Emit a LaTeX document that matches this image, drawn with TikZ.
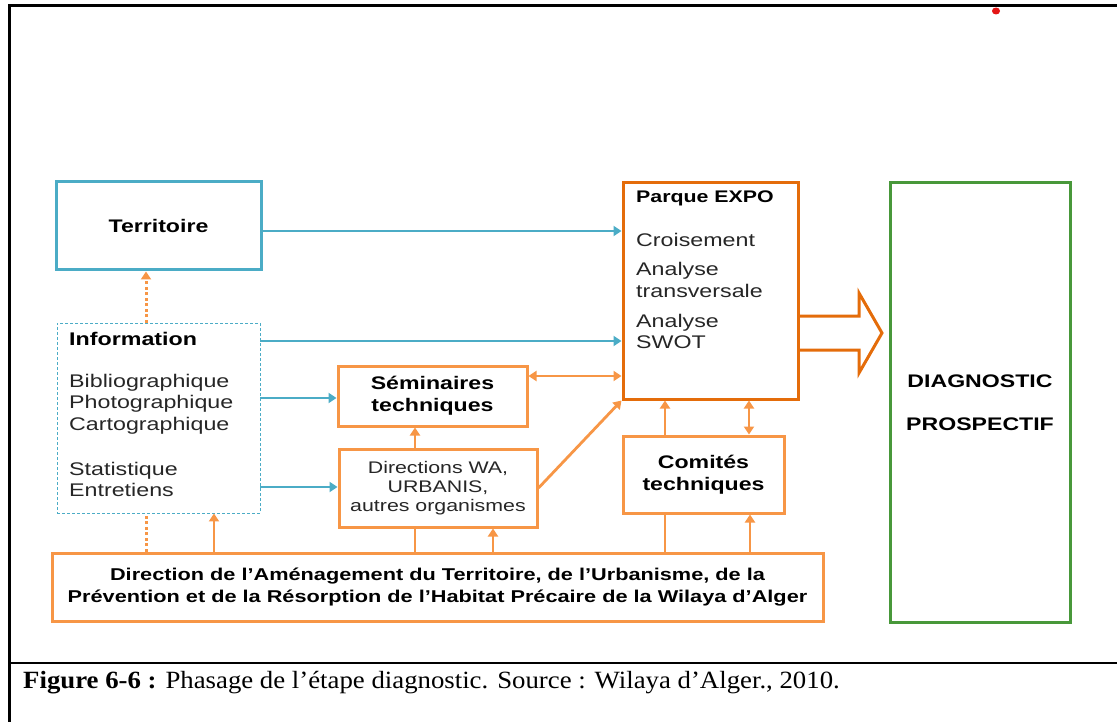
\documentclass[tikz,border=0pt]{standalone}
\usepackage{fontspec}
\setmainfont{Liberation Sans}[FakeStretch=1.27]
\newfontfamily\capfont{Liberation Serif}[FakeStretch=1.08]
\usetikzlibrary{arrows.meta}
\definecolor{aqua}{RGB}{75,172,198}
\definecolor{tangerine}{RGB}{247,150,70}
\definecolor{rust}{RGB}{228,108,10}
\definecolor{leaf}{RGB}{72,152,58}
\definecolor{ink}{RGB}{38,38,38}
\definecolor{reddot}{RGB}{228,22,22}

\begin{document}
\begin{tikzpicture}[x=1pt,y=-1pt,
  box/.style={draw, line width=3pt, inner sep=0pt, align=center, text=black,
              font=\bfseries\fontsize{18.2}{22}\selectfont},
  terrbox/.style={box, draw=aqua},
  infobox/.style={draw=aqua, line width=0.9pt, dash pattern=on 3pt off 2pt, inner sep=0pt},
  orbox/.style={box, draw=tangerine},
  parbox/.style={box, draw=rust},
  diagbox/.style={box, draw=leaf},
  txtline/.style={anchor=base west, inner sep=0pt, text=ink, font=\fontsize{18.3}{22}\selectfont},
  boldline/.style={txtline, text=black, font=\bfseries\fontsize{18.3}{22}\selectfont},
  link/.style={line width=2.8pt},
  tip/.style={-{Triangle[length=8pt,width=10pt]}},
  bluearrow/.style={link, draw=aqua, tip},
  orarrow/.style={link, draw=tangerine, tip},
  ortwoway/.style={link, draw=tangerine, {Triangle[length=8pt,width=10pt]}-{Triangle[length=8pt,width=10pt]}},
  orplain/.style={link, draw=tangerine},
  ordotted/.style={line width=3pt, draw=tangerine, dash pattern=on 3pt off 2.5pt},
]
\useasboundingbox (0,0) rectangle (1117,722);

% page frame and caption rule
\draw[line width=3pt] (1117,6) -- (9,6) -- (9,722);
\draw[line width=2.5pt] (9,663) -- (1117,663);
\fill[reddot] (996,11) ellipse [x radius=4pt, y radius=3.5pt];

% boxes
\node[terrbox, minimum width=205pt, minimum height=88pt] (terr) at (158.5,226) {Territoire};
\node[infobox, minimum width=203pt, minimum height=190pt] (info) at (158.5,418) {};
\node[orbox, minimum width=189pt, minimum height=60pt] (sem) at (432.5,396) {Séminaires\\techniques};
\node[orbox, minimum width=198pt, minimum height=78pt, font=\fontsize{16.8}{19}\selectfont, text=ink]
  (dir) at (438,488) {Directions WA,\\URBANIS,\\autres organismes};
\node[parbox, minimum width=175pt, minimum height=216pt] (parque) at (710.5,291) {};
\node[orbox, minimum width=161pt, minimum height=77pt] (com) at (703.5,474.5) {Comités\\techniques};
\node[diagbox, minimum width=180pt, minimum height=439pt] (diag) at (980,402.5)
  {DIAGNOSTIC\\[21pt]PROSPECTIF};
\node[orbox, minimum width=771pt, minimum height=68pt, font=\bfseries\fontsize{17.1}{22}\selectfont]
  (dir-amt) at (437.5,587)
  {Direction de l’Aménagement du Territoire, de l’Urbanisme, de la\\
   Prévention et de la Résorption de l’Habitat Précaire de la Wilaya d’Alger};

% text of the information box
\node[boldline] (info-head) at (69,345) {Information};
\foreach \txt/\yy [count=\k] in {Bibliographique/387, Photographique/408.5,
    Cartographique/430, Statistique/475, Entretiens/496.5}
  \node[txtline] (info-\k) at (69,\yy) {\txt};

% text of the Parque EXPO box
\node[boldline, font=\bfseries\fontsize{16.8}{22}\selectfont] (parque-head) at (636,203) {Parque EXPO};
\foreach \txt/\yy [count=\k] in {Croisement/247, Analyse/276, transversale/298,
    Analyse/327, SWOT/348.5}
  \node[txtline] (parque-\k) at (636,\yy) {\txt};

% hollow arrow towards the diagnostic
\coordinate (big-tip) at (882,333);
\draw[rust, line width=3pt, line join=miter]
  (parque.east |- 0,316) -- (859,316) -- (859,293) -- (big-tip)
  -- (859,373) -- (859,350) -- (parque.east |- 0,350);

% blue flows
\draw[bluearrow] (terr.east |- 0,231) -- (parque.west |- 0,231);
\draw[bluearrow] (info.east |- 0,341) -- (parque.west |- 0,341);
\draw[bluearrow] (info.east |- 0,398) -- (sem.west |- 0,398);
\draw[bluearrow] (info.east |- 0,487) -- (dir.west |- 0,487);

% orange flows
\draw[ortwoway] (sem.east |- 0,376) -- (parque.west |- 0,376);
\draw[orarrow] (dir.north -| 415,0) -- (sem.south -| 415,0);
\draw[orarrow] (dir.east) -- (parque.south west);
\draw[orarrow] (com.north -| 665,0) -- (parque.south -| 665,0);
\draw[ortwoway] (com.north -| 749,0) -- (parque.south -| 749,0);

% links from the Direction de l'Aménagement
\draw[ordotted] (dir-amt.north -| 146,0) -- (info.south -| 146,0);
\draw[ordotted, tip] (info.north -| 146,0) -- (terr.south -| 146,0);
\draw[orarrow] (dir-amt.north -| 214,0) -- (info.south -| 214,0);
\draw[orplain] (dir-amt.north -| 415,0) -- (dir.south -| 415,0);
\draw[orarrow] (dir-amt.north -| 493,0) -- (dir.south -| 493,0);
\draw[orplain] (dir-amt.north -| 665,0) -- (com.south -| 665,0);
\draw[orarrow] (dir-amt.north -| 750,0) -- (com.south -| 750,0);

% caption
\node[anchor=base west, inner sep=0pt, font=\capfont\fontsize{24.8}{30}\selectfont] (caption)
  at (23,688) {\textbf{Figure 6-6 :} Phasage de l’étape diagnostic. Source : Wilaya d’Alger., 2010.};
\end{tikzpicture}
\end{document}
